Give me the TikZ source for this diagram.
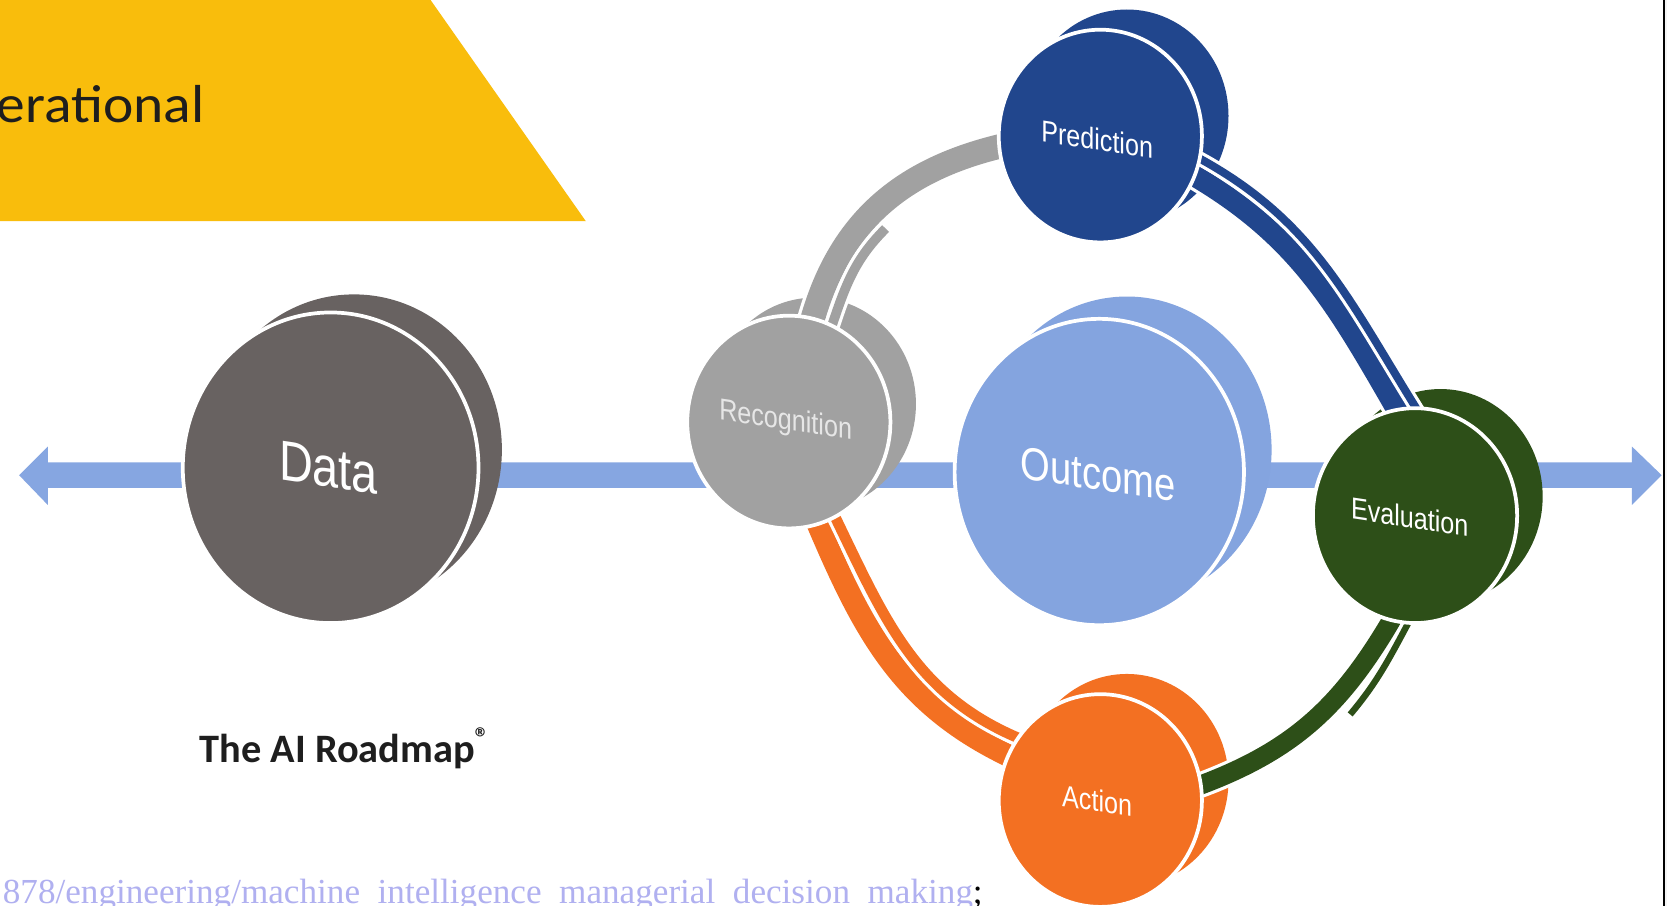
\documentclass[tikz,border=0pt]{standalone}
\usepackage{fontspec}
\setmainfont{Liberation Sans}
\newfontfamily\calib{Carlito}
\newfontfamily\tnr{Liberation Serif}
\usetikzlibrary{shapes.geometric,calc}
\pgfdeclarelayer{back}
\pgfdeclarelayer{mid}
\pgfsetlayers{back,mid,main}
\definecolor{ylw}{HTML}{F9BD0C}
\definecolor{barc}{HTML}{86A6E1}
\definecolor{datac}{HTML}{686261}
\definecolor{recc}{HTML}{A1A1A1}
\definecolor{rectxt}{HTML}{E6E6E6}
\definecolor{outc}{HTML}{84A4DF}
\definecolor{predc}{HTML}{21468D}
\definecolor{evalc}{HTML}{2D4F18}
\definecolor{actc}{HTML}{F37022}
\definecolor{linkc}{RGB}{176,176,240}
\definecolor{inkc}{HTML}{1E1E1E}
\begin{document}
\begin{tikzpicture}[x=0.01cm,y=-0.01cm,
  disc/.style={ellipse, inner sep=0pt, draw=white, line width=0.035cm},
  smalld/.style={minimum width=1.91cm, minimum height=2.0cm},
  lbl/.style={text=white, inner sep=0pt, yslant=-0.15, xscale=0.83},
  band/.style={line width=#1, preaction={draw=white, line width=#1+0.06cm}},
  ext/.style={shorten <=-0.08cm, shorten >=-0.08cm},
  exts/.style={shorten <=-0.08cm}
]
\useasboundingbox (0,0) rectangle (1568,852);

% front discs
\node[disc, fill=datac, minimum width=2.78cm, minimum height=2.92cm] (data) at (311,440) {};
\node[disc, smalld, fill=recc] (rec) at (742,397) {};
\node[disc, fill=outc, minimum width=2.72cm, minimum height=2.88cm] (out) at (1034,444) {};
\node[disc, smalld, fill=predc] (pred) at (1035,128) {};
\node[disc, smalld, fill=evalc, minimum width=1.92cm, minimum height=2.02cm] (eval) at (1331,485) {};
\node[disc, smalld, fill=actc] (act) at (1035,753) {};

% labels
\node[lbl, font=\fontsize{15.1pt}{17pt}\selectfont] (tdata) at (309,440) {Data};
\node[lbl, text=rectxt, font=\fontsize{8.1pt}{10pt}\selectfont] (trec) at (739,397) {Recognition};
\node[lbl, font=\fontsize{12.3pt}{14pt}\selectfont] (tout) at (1033,446) {Outcome};
\node[lbl, font=\fontsize{8.1pt}{10pt}\selectfont] (tpred) at (1032,131) {Prediction};
\node[lbl, font=\fontsize{8.1pt}{10pt}\selectfont] (teval) at (1326,486) {Evaluation};
\node[lbl, font=\fontsize{8.1pt}{10pt}\selectfont] (tact) at (1032,753) {Action};

% other texts
\node[anchor=base east, inner sep=0pt, text=inkc, xscale=1.075, font=\calib\fontsize{14.3pt}{17pt}\selectfont] (op) at (193,115) {Operational};
\node[anchor=base west, inner sep=0pt, text=inkc, font=\calib\bfseries\fontsize{10.8pt}{13pt}\selectfont] (road) at (187,717) {The AI Roadmap\textsuperscript{\textregistered}};
\node[anchor=base east, inner sep=0pt, font=\tnr\fontsize{9.4pt}{11pt}\selectfont] (url) at (925,850) {\textcolor{linkc}{878/engineering/machine\hspace{0.5em}intelligence\hspace{0.5em}managerial\hspace{0.5em}decision\hspace{0.5em}making};};

\coordinate (gt) at (833,215);
\coordinate (gg) at (1270,672);

\begin{pgfonlayer}{back}
  \fill[white] (0,0) rectangle (1568,852);
  \fill[ylw] (0,0) -- (405,0) -- (551,208) -- (0,208) -- cycle;
  \fill[barc] (18,447) -- (45,420) -- (45,435) -- (1535,435) -- (1535,420) -- (1563,447)
     -- (1535,475) -- (1535,459) -- (45,459) -- (45,475) -- cycle;
  \fill[black] (1564,0) rectangle (1566,852);
  \fill[black!4] (1566,0) rectangle (1568,852);
  \fill[datac] ([shift={(22,-17)}]data.center) ellipse [x radius=1.39cm, y radius=1.46cm];
  \fill[recc] ([shift={(24,-17)}]rec.center) ellipse [x radius=0.955cm, y radius=1.0cm];
  \fill[outc] ([shift={(26,-21)}]out.center) ellipse [x radius=1.36cm, y radius=1.44cm];
  \fill[predc] ([shift={(25,-19)}]pred.center) ellipse [x radius=0.955cm, y radius=1.0cm];
  \fill[evalc] ([shift={(24,-18)}]eval.center) ellipse [x radius=0.96cm, y radius=1.01cm];
  \fill[actc] ([shift={(25,-19)}]act.center) ellipse [x radius=0.955cm, y radius=1.0cm];
\end{pgfonlayer}

\begin{pgfonlayer}{mid}
  % gray: recognition -> prediction
  \draw[band=0.23cm, draw=recc, ext] (rec.77) to[out=75, in=193] (pred.186);
  \draw[band=0.09cm, draw=recc, exts] (rec.66) to[out=72, in=225] (gt);
  % blue: prediction -> evaluation
  \draw[band=0.20cm, draw=predc, ext] (pred.-23) to[out=-30, in=120] (eval.100);
  \draw[band=0.075cm, draw=predc, ext] (pred.-13) to[out=-28, in=122] (eval.90);
  % green: evaluation -> action
  \draw[band=0.18cm, draw=evalc, ext] (eval.257) to[out=240, in=20] (act.9);
  \draw[band=0.06cm, draw=evalc, exts] (eval.266) to[out=242, in=50] (gg);
  % orange: recognition -> action
  \draw[band=0.21cm, draw=actc, ext] (rec.286) to[out=-67, in=155] (act.154);
  \draw[band=0.10cm, draw=actc, ext] (rec.296) to[out=-64, in=158] (act.143);
\end{pgfonlayer}
\end{tikzpicture}
\end{document}
